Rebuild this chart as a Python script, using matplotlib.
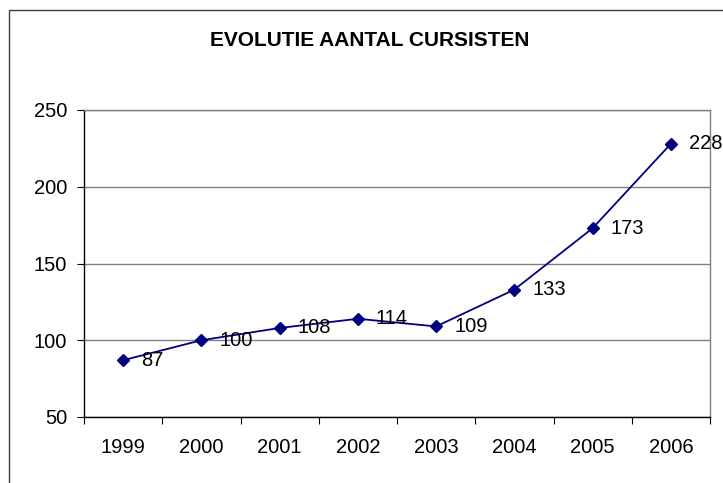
import matplotlib
matplotlib.use("Agg")
import matplotlib.pyplot as plt
from matplotlib.patches import Rectangle
import numpy as np

years = ["1999", "2000", "2001", "2002", "2003", "2004", "2005", "2006"]
cursisten = [87, 100, 108, 114, 109, 133, 173, 228]
yticks = [50, 100, 150, 200, 250]

plt.rcParams["font.family"] = ["Liberation Sans", "DejaVu Sans"]
FS = 14.5

fig = plt.figure(figsize=(7.23, 4.83), dpi=100)
ax = fig.add_axes([84 / 723, 1 - 417 / 483, 626 / 723, 307 / 483])

x = np.arange(len(years)) + 0.5
ax.plot(x, cursisten, color="#000080", lw=1.3, marker="D", ms=6.5, zorder=3)
for xi, v in zip(x, cursisten):
    ax.annotate(str(v), (xi, v), xytext=(13, 0), textcoords="offset points",
                ha="left", va="center", fontsize=FS, color="black")

ax.set_xlim(0, len(years))
ax.set_ylim(50, 250)
ax.set_yticks(yticks)
ax.set_yticklabels([str(t) for t in yticks], fontsize=FS)
ax.set_xticks(np.arange(len(years) + 1))
ax.set_xticklabels([])
ax.set_xticks(x, minor=True)
ax.set_xticklabels(years, minor=True, fontsize=FS)
ax.tick_params(axis="x", which="minor", length=0, pad=15)
ax.tick_params(axis="x", which="major", length=5, direction="out", color="black")
ax.tick_params(axis="y", length=5, direction="out", pad=7)

ax.grid(axis="y", color="#808080", lw=1)
ax.set_axisbelow(True)
ax.spines["left"].set_color("black")
ax.spines["bottom"].set_color("black")
ax.spines["top"].set_color("#808080")
ax.spines["right"].set_color("#808080")
for s in ax.spines.values():
    s.set_linewidth(1)

fig.text(370 / 723, 1 - 40 / 483, "EVOLUTIE AANTAL CURSISTEN", ha="center", va="center",
         fontsize=15, fontweight="bold")

fig.patches.append(Rectangle((9 / 723, -0.1), 1.2, 1 - 10 / 483 + 0.1, transform=fig.transFigure,
                             fill=False, edgecolor="#404040", lw=1))

fig.savefig("out.png", dpi=100, facecolor="white")
